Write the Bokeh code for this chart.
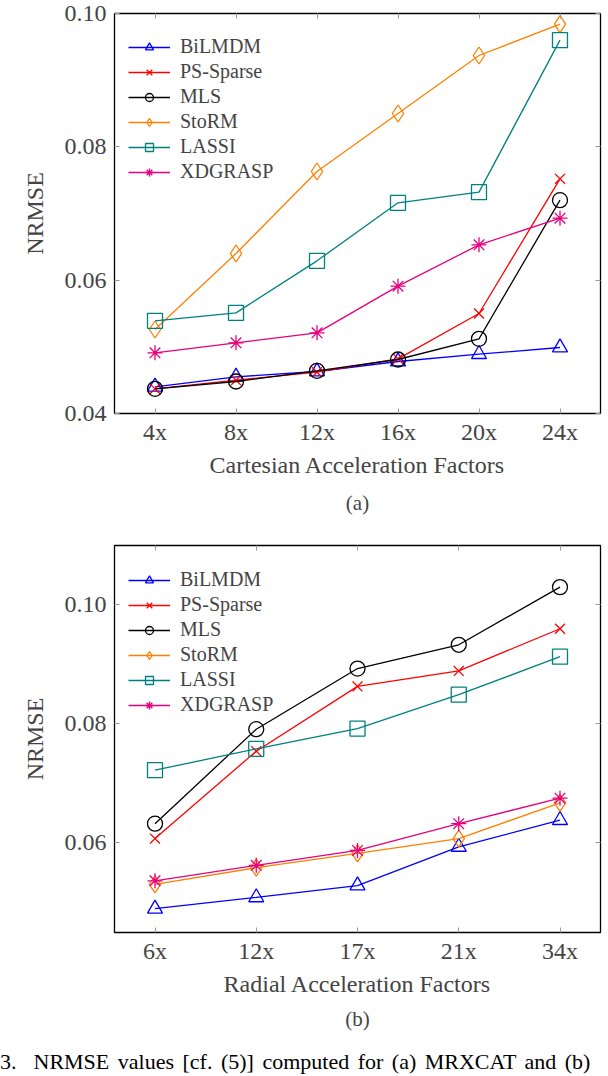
from bokeh.plotting import figure
from bokeh.models import (Range1d, FixedTicker, LinearAxis, Legend, LegendItem,
                          Title, PrintfTickFormatter, Div)
from bokeh.layouts import column
from bokeh.embed import file_html
from bokeh.resources import INLINE

methods = ["BiLMDM", "PS-Sparse", "MLS", "StoRM", "LASSI", "XDGRASP"]

# (a) Cartesian undersampling
cart_factors = ["4x", "8x", "12x", "16x", "20x", "24x"]
cart_bilmdm = [0.0440, 0.0455, 0.0463, 0.0478, 0.0489, 0.0499]
cart_pssparse = [0.0437, 0.0450, 0.0462, 0.0482, 0.0550, 0.0752]
cart_mls = [0.0437, 0.0448, 0.0464, 0.0481, 0.0512, 0.0720]
cart_storm = [0.0526, 0.0640, 0.0763, 0.0850, 0.0937, 0.0984]
cart_lassi = [0.0539, 0.0551, 0.0629, 0.0716, 0.0732, 0.0960]
cart_xdgrasp = [0.0491, 0.0506, 0.0521, 0.0591, 0.0653, 0.0693]

# (b) radial undersampling
rad_factors = ["6x", "12x", "17x", "21x", "34x"]
rad_bilmdm = [0.0489, 0.0508, 0.0528, 0.0593, 0.0638]
rad_pssparse = [0.0607, 0.0754, 0.0863, 0.0889, 0.0960]
rad_mls = [0.0632, 0.0791, 0.0893, 0.0933, 0.1030]
rad_storm = [0.0530, 0.0558, 0.0582, 0.0607, 0.0667]
rad_lassi = [0.0722, 0.0758, 0.0792, 0.0849, 0.0913]
rad_xdgrasp = [0.0536, 0.0562, 0.0587, 0.0632, 0.0675]

styles = {
    "BiLMDM": ("#0000ff", "triangle", 15),
    "PS-Sparse": ("#ff0000", "x", 14),
    "MLS": ("#000000", "circle", 15),
    "StoRM": ("#ff8000", "diamond", 17),
    "LASSI": ("#008080", "square", 15),
    "XDGRASP": ("#e6007e", "asterisk", 15),
}

FONT = "Liberation Serif"
fig_caption = "3.&nbsp; NRMSE values [cf. (5)] computed for (a) MRXCAT and (b)"


def panel(factors, series, xlabel, caption, ymin, ymax, yticks,
          height, top, bottom, legend_bottom, cap_standoff):
    xs = list(range(len(factors)))
    pad = 0.1 * (len(factors) - 1)
    p = figure(width=602, height=height, output_backend="svg",
               toolbar_location=None,
               x_range=Range1d(-pad, len(factors) - 1 + pad),
               y_range=Range1d(ymin, ymax),
               min_border_left=114, min_border_right=2,
               min_border_top=top, min_border_bottom=bottom)
    p.grid.visible = False
    p.outline_line_color = "black"
    p.outline_line_width = 1.3

    p.xaxis.ticker = FixedTicker(ticks=xs)
    p.xaxis.major_label_overrides = {i: f for i, f in zip(xs, factors)}
    p.yaxis.ticker = FixedTicker(ticks=yticks)
    p.yaxis.formatter = PrintfTickFormatter(format="%.2f")
    p.xaxis.axis_label = xlabel
    p.yaxis.axis_label = "NRMSE"
    for ax in [p.xaxis[0], p.yaxis[0]]:
        ax.axis_line_color = None
        ax.major_tick_in = 5
        ax.major_tick_out = 0
        ax.major_tick_line_color = "#999999"
        ax.minor_tick_line_color = None
        ax.major_label_standoff = 5
        ax.major_label_text_font = FONT
        ax.major_label_text_font_size = "24px"
        ax.axis_label_text_font = FONT
        ax.axis_label_text_font_size = "24px"
        ax.axis_label_text_font_style = "normal"
    p.yaxis.major_label_standoff = 8
    p.xaxis.axis_label_standoff = 4
    p.yaxis.axis_label_standoff = 14

    # mirrored ticks on top and right, no labels
    top_ax = LinearAxis(ticker=FixedTicker(ticks=xs),
                        major_label_overrides={i: "" for i in xs})
    right_ax = LinearAxis(ticker=FixedTicker(ticks=yticks),
                          major_label_overrides={t: "" for t in yticks})
    for ax in [top_ax, right_ax]:
        ax.axis_line_color = None
        ax.major_tick_in = 5
        ax.major_tick_out = 0
        ax.major_tick_line_color = "#999999"
        ax.minor_tick_line_color = None
        ax.major_label_standoff = 0
    p.add_layout(top_ax, "above")
    p.add_layout(right_ax, "right")

    items = []
    for name, ys in zip(methods, series):
        color, marker, size = styles[name]
        ln = p.line(xs, ys, line_color=color, line_width=1.3)
        sc = p.scatter(xs, ys, marker=marker, size=size, line_color=color,
                       fill_color=None, line_width=1.3)
        items.append(LegendItem(label=name, renderers=[ln, sc]))
    leg = Legend(items=items, location=(14, legend_bottom),
                 border_line_color=None, background_fill_alpha=0,
                 label_text_font=FONT, label_text_font_size="20px",
                 glyph_width=42, glyph_height=20, label_height=20,
                 spacing=2, padding=0, margin=0, label_standoff=10)
    p.add_layout(leg)

    cap = Title(text=caption, align="center", offset=-52, standoff=cap_standoff,
                text_font=FONT, text_font_size="21px",
                text_font_style="normal")
    p.add_layout(cap, "below")
    return p


pa = panel(cart_factors,
           [cart_bilmdm, cart_pssparse, cart_mls, cart_storm, cart_lassi, cart_xdgrasp],
           "Cartesian Acceleration Factors", "(a)", 0.04, 0.10,
           [0.04, 0.06, 0.08, 0.10], 530, 13, 117, 230, 17)
pb = panel(rad_factors,
           [rad_bilmdm, rad_pssparse, rad_mls, rad_storm, rad_lassi, rad_xdgrasp],
           "Radial Acceleration Factors", "(b)", 0.0449, 0.110,
           [0.06, 0.08, 0.10], 519, 15, 117, 216, 10)

note = Div(text='<div style="font-family:\'Liberation Serif\';font-size:22px;'
                'word-spacing:3px;line-height:26px;white-space:nowrap;margin:0">'
                + fig_caption + '</div>',
           width=602, height=26, margin=(0, 0, 0, 0))

layout = column(pa, pb, note, spacing=0)
open("out.html", "w").write(file_html(layout, INLINE))
